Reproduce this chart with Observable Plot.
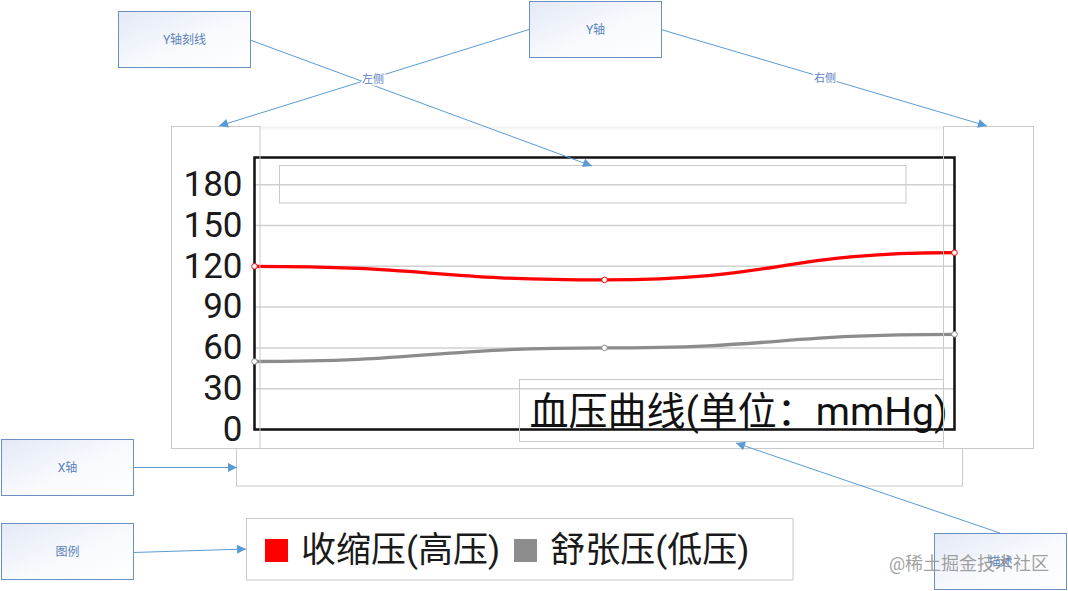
<!DOCTYPE html>
<html><head><meta charset="utf-8">
<script src="https://cdn.jsdelivr.net/npm/d3@7"></script>
<script src="https://cdn.jsdelivr.net/npm/@observablehq/plot@0.6"></script>
<style>
html,body{margin:0;padding:0;background:#fff;}
#wrap{position:relative;width:1068px;height:591px;overflow:hidden;font-family:Roboto,"Noto Sans CJK SC",sans-serif;}
#chart{position:absolute;left:0;top:0;}
#legend{position:absolute;left:265px;top:530px;}
#overlay{position:absolute;left:0;top:0;}
.bp-swatches{font-family:Roboto,"Noto Sans CJK SC",sans-serif !important;font-size:35px !important;color:#1a1a1a;margin:0 !important;line-height:41px;}
.bp-swatch{margin-right:14px !important;}
.bp-swatch > svg{margin-right:13px !important;}
</style></head><body>
<div id="wrap"><div id="chart"></div><div id="legend"></div><svg id="overlay" width="1068" height="591"></svg></div>
<script>
// ---- data ----
const readings = ["第1次", "第2次", "第3次"];
const systolic = [120, 110, 130];
const diastolic = [50, 60, 70];
const seriesNames = ["收缩压(高压)", "舒张压(低压)"];
const seriesColors = ["#ff0000", "#8c8c8c"];
const yTicks = [0, 30, 60, 90, 120, 150, 180];
const yDomain = [0, 200];
const chartTitle = "血压曲线(单位：mmHg)";

const rows = readings.flatMap((r, i) => [
  {reading: r, value: systolic[i], series: seriesNames[0]},
  {reading: r, value: diastolic[i], series: seriesNames[1]}
]);

const font = 'Roboto, "Noto Sans CJK SC", sans-serif';

const chart = Plot.plot({
  width: 1068, height: 591,
  marginLeft: 254, marginRight: 114, marginTop: 157, marginBottom: 162,
  style: {fontFamily: font, background: "transparent", overflow: "visible"},
  x: {type: "point", domain: readings, padding: 0, axis: null},
  y: {domain: yDomain, axis: null, label: null},
  color: {domain: seriesNames, range: seriesColors},
  marks: [
    Plot.gridY(yTicks, {stroke: "#d0d0d0", strokeOpacity: 1, strokeWidth: 1.5}),
    Plot.axisY(yTicks, {tickSize: 0, tickPadding: 12, fontSize: 35, fill: "#1a1a1a", label: null}),
    Plot.frame({stroke: "#111", strokeWidth: 2.5}),
    Plot.line(rows, {x: "reading", y: "value", z: "series", stroke: "series", curve: "bump-x", strokeWidth: 3.3}),
    Plot.dot(rows, {x: "reading", y: "value", stroke: "series", fill: "white", r: 2.8, strokeWidth: 1}),
    Plot.text([chartTitle], {text: d => d, frameAnchor: "bottom-right", dx: -7, dy: -5, fontSize: 39, fill: "#111", lineAnchor: "bottom"})
  ]
});
document.getElementById("chart").appendChild(chart);

const legend = Plot.legend({
  className: "bp",
  legend: "swatches",
  swatchSize: 23,
  color: {type: "ordinal", domain: seriesNames, range: seriesColors}
});
document.getElementById("legend").appendChild(legend);

// ---- annotation overlay (diagram callouts) ----
const ov = document.getElementById("overlay");
const blueStroke = "#6d90c4", blueText = "#5a82bf", arrow = "#5b9bd5", grayBox = "#c9c9c9";
function box(x, y, w, h, label) {
  return `<rect x="${x}" y="${y}" width="${w}" height="${h}" fill="url(#bg)" stroke="${blueStroke}" stroke-width="1"/>` +
    (label ? `<text x="${x + w / 2}" y="${y + h / 2}" text-anchor="middle" dominant-baseline="central" font-size="12" fill="${blueText}">${label}</text>` : "");
}
function arr(x1, y1, x2, y2) {
  return `<line x1="${x1}" y1="${y1}" x2="${x2}" y2="${y2}" stroke="${arrow}" stroke-width="1" marker-end="url(#ah)"/>`;
}
function gbox(x1, y1, x2, y2) {
  return `<rect x="${x1}" y="${y1}" width="${x2 - x1}" height="${y2 - y1}" fill="none" stroke="${grayBox}" stroke-width="1"/>`;
}
function lab(x, y, t) {
  return `<text x="${x}" y="${y}" text-anchor="middle" dominant-baseline="central" font-size="11" fill="${blueText}" stroke="#fff" stroke-width="3" paint-order="stroke">${t}</text>`;
}
ov.innerHTML = `
<defs>
  <linearGradient id="bg" x1="0" y1="0" x2="1" y2="1">
    <stop offset="0" stop-color="#e3e9f6"/><stop offset="0.55" stop-color="#f8fafd"/><stop offset="1" stop-color="#ffffff"/>
  </linearGradient>
  <linearGradient id="band" x1="0" y1="0" x2="0" y2="1">
    <stop offset="0" stop-color="#efefef"/><stop offset="1" stop-color="#ffffff" stop-opacity="0"/>
  </linearGradient>
  <marker id="ah" viewBox="0 0 10 10" refX="10" refY="5" markerWidth="11" markerHeight="9" orient="auto" markerUnits="userSpaceOnUse">
    <path d="M0,0L10,5L0,10z" fill="${arrow}"/>
  </marker>
</defs>
<g font-family='${font}'>
<rect x="260" y="126.5" width="684" height="7" fill="url(#band)"/>
${gbox(171.5, 126.5, 260, 448.5)}
${gbox(943.5, 126.5, 1033.5, 448.5)}
${gbox(279.5, 165.5, 906, 203)}
${gbox(519.5, 379.5, 943.5, 441.5)}
${gbox(236.5, 448.5, 962.5, 486)}
${gbox(246.5, 518.5, 793, 580)}
${box(118.5, 11.5, 132, 56, "Y轴刻线")}
${box(529.5, 1.5, 132, 56, "Y轴")}
${box(1.5, 439.5, 132, 56, "X轴")}
${box(1.5, 523.5, 132, 56, "图例")}
${box(934.5, 533.5, 132, 56, "描述")}
${arr(529, 29.5, 219, 126)}
${arr(661, 29.5, 987, 126)}
${arr(250, 40, 592, 166)}
${arr(133, 467.5, 237, 467.5)}
${arr(133, 552.5, 246, 549)}
${arr(1000, 533, 736, 443)}
${lab(373, 79, "左侧")}
${lab(825, 78, "右侧")}
<text x="969" y="563" text-anchor="middle" dominant-baseline="central" font-size="18" fill="#8f8f8f" fill-opacity="0.85">@稀土掘金技术社区</text>
</g>`;
</script>
</body></html>
